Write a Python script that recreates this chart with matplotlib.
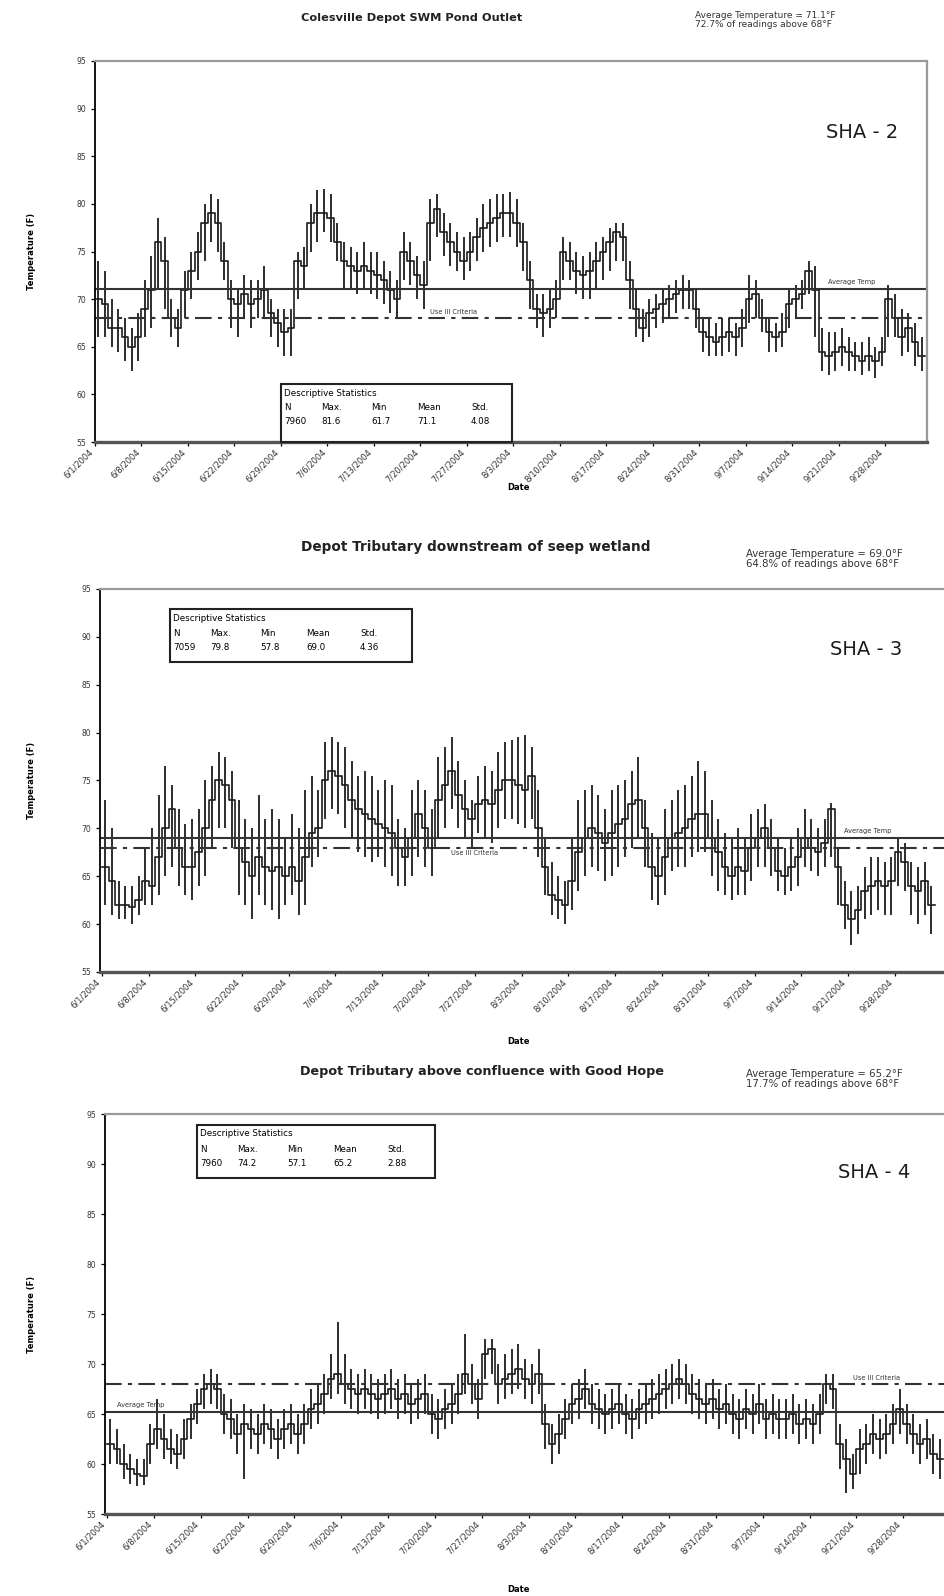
import matplotlib
matplotlib.use("Agg")
import matplotlib.pyplot as plt
from matplotlib.patches import Rectangle
import numpy as np

plt.rcParams['font.family'] = ['DejaVu Sans']

W, H = 944, 1596

tick_labels = ["6/1/2004", "6/8/2004", "6/15/2004", "6/22/2004", "6/29/2004",
               "7/6/2004", "7/13/2004", "7/20/2004", "7/27/2004", "8/3/2004",
               "8/10/2004", "8/17/2004", "8/24/2004", "8/31/2004", "9/7/2004",
               "9/14/2004", "9/21/2004", "9/28/2004"]
tick_days = [0, 7, 14, 21, 28, 35, 42, 49, 56, 63, 70, 77, 84, 91, 98, 105, 112, 119]

# SHA-2 daily mean / min / max (deg F), from 6/1/2004
sha2_mean = [70, 69.5, 67, 67, 66, 65, 66, 69, 71, 76, 74, 68, 67, 71, 73, 75, 78, 79, 78, 74,
             70, 69.5, 70.5, 69.5, 70, 71, 68.5, 67.5, 66.5, 67, 74, 73.5, 78, 79, 79, 78.5, 76, 74, 73.5, 73,
             73.5, 73, 72.5, 72, 71, 70, 75, 74, 72.5, 71.5, 78, 79.5, 77, 76, 75, 74, 75, 76.5, 77.5, 78,
             78.5, 79, 79, 78, 76, 72, 69, 68.5, 69, 70, 75, 74, 73, 72.5, 73, 74, 75, 76, 77, 76.5,
             72, 69, 67, 68.5, 69, 69.5, 70, 70.5, 71, 71, 69, 66.5, 66, 65.5, 66, 66.5, 66, 67, 70, 70.5,
             68, 66.5, 66, 66.5, 69.5, 70, 70.5, 73, 71, 64.5, 64, 64.5, 65, 64.5, 64, 63.5, 64, 63.5, 64.5, 70,
             68, 66, 67, 65.5, 64]
sha2_lo = [66, 66, 65, 64.5, 63.5, 62.5, 63.5, 66, 67, 71, 69, 66, 65, 68, 70, 72, 74, 76, 75, 72,
           67, 66, 68, 67, 68, 68, 66, 65, 64, 64, 70, 71, 75, 76, 77, 76, 74, 71, 71, 70.5,
           71, 70.5, 70, 69.5, 68.5, 68, 72, 71.5, 70, 69, 74, 76.5, 74.5, 73.5, 73, 72, 73, 74, 75, 75.5,
           76, 76.5, 76.5, 75.5, 73, 69, 67, 66, 67, 68, 72, 72, 70.5, 70, 70, 71, 72, 73, 74, 74,
           69, 66, 65.5, 66, 67, 67.5, 68, 68.5, 69, 69, 67, 64.5, 64, 64, 64, 64.5, 64, 65, 67.5, 68,
           66.5, 64.5, 64.5, 65, 67, 68, 69, 70.5, 66, 62.5, 62, 62.5, 63, 62.5, 62.5, 62, 62.5, 61.7, 63, 66,
           66, 64, 64.5, 63, 62.5]
sha2_hi = [74, 73, 70, 69, 68, 67, 68.5, 72, 74.5, 78.5, 76.5, 70, 69, 73, 75, 77, 80, 81, 80.5, 76,
           72, 71, 72.5, 72, 72, 73.5, 70, 69, 69, 69, 75, 75.5, 80, 81.5, 81.6, 81, 78, 76, 75.5, 75,
           76, 75, 75, 74, 73, 72, 77, 76, 74.5, 74, 80.5, 81, 79, 78, 77, 76.5, 77, 78.5, 80, 80.5,
           81, 81, 81.2, 80.5, 78, 74, 70.5, 70.5, 71, 72, 76.5, 76, 75, 74.5, 75, 76, 76.5, 77.5, 78, 78,
           74, 71, 69, 70, 70.5, 71, 71.5, 72, 72.5, 72, 71, 68, 68, 67.5, 68, 68, 67.5, 69, 72.5, 72,
           70, 68, 67.5, 68.5, 71, 71.5, 72, 74, 73.5, 67, 66.5, 66.5, 67, 66, 65.5, 65.5, 66, 65, 66, 71.5,
           70.5, 69, 68.5, 67.5, 66]

# SHA-3 daily mean / min / max
sha3_mean = [66, 64.5, 62, 62, 61.8, 62.5, 64.5, 64, 67, 70, 72, 68, 66, 66, 67.5, 70, 73, 75, 74.5, 73,
             68, 66.5, 65, 67, 66, 65.5, 66, 65, 66, 64.5, 67, 69.5, 70, 75, 76, 75.5, 74.5, 73, 72, 71.5,
             71, 70.5, 70, 69.5, 68, 67, 69, 71.5, 70, 68, 73, 74.5, 76, 73.5, 72, 71, 72.5, 73, 72.5, 74,
             75, 75, 74.5, 74, 75.5, 70, 66, 63, 62.5, 62, 64.5, 67.5, 69, 70, 69.5, 68.5, 69.5, 70.5, 71, 72.5,
             73, 70, 66, 65, 67, 69, 69.5, 70, 71, 71.5, 71.5, 69, 67.5, 66, 65, 66, 65.5, 68, 69, 70,
             68, 65.5, 65, 66, 67, 69, 68, 67.5, 68.5, 72, 66, 62, 60.5, 61.5, 63.5, 64, 64.5, 64, 64.5, 67.5,
             66.5, 64, 63.5, 64.5, 62]
sha3_lo = [62, 61, 60.5, 60.5, 60, 61, 62, 62, 63, 65, 66, 64, 63, 62.5, 64, 65, 68, 70, 70, 68,
           63, 62, 60.5, 63, 62, 61.5, 60.5, 62, 63, 61, 62, 66, 67, 71, 72, 71.5, 70, 69, 67.5, 67,
           66.5, 67, 66, 65, 64, 64, 65, 67, 66, 65, 69, 70, 72, 70, 69, 68, 69.5, 69, 68.5, 70,
           71, 71, 70.5, 70, 71, 67, 63, 61, 60.5, 60, 61.5, 63.5, 65, 66, 65.5, 64.5, 65, 66, 67, 68,
           69, 66, 62.5, 62, 63, 65.5, 66, 66, 67, 67.5, 67.5, 65, 63.5, 63, 62.5, 63, 63, 64.5, 66, 66,
           65, 63.5, 63, 63.5, 64, 66, 65.5, 65, 66, 67, 62, 59.5, 57.8, 59, 60.5, 61, 61.5, 61, 61, 64,
           63.5, 61, 60, 61, 59]
sha3_hi = [73, 70, 64.5, 64, 64, 65, 68, 70, 73.5, 76.5, 74.5, 72, 70.5, 71, 72, 75, 76.5, 78, 77.5, 76,
           73, 71, 70, 73.5, 71, 72, 71, 69, 71.5, 70, 74, 75.5, 74, 79, 79.5, 79, 78.5, 77, 75.5, 76,
           75.5, 74, 75, 74.5, 71, 70, 74, 75, 74, 72, 77.5, 78.5, 79.5, 77, 75, 73, 75.5, 76.5, 76, 78,
           79, 79.2, 79.5, 79.8, 78.5, 74, 69, 66.5, 65, 64.5, 69, 73, 74, 74.5, 73.5, 72, 74, 74.5, 75, 76,
           77.5, 73, 69.5, 69, 72, 73, 74, 74.5, 75.5, 77, 76, 73, 71, 69.5, 69, 70, 69, 71.5, 72, 72.5,
           71, 69, 68, 69, 70, 72, 71, 70, 71, 72.7, 68, 64.5, 63.5, 64, 66, 67, 67, 66.5, 67, 69,
           68.5, 66.5, 66, 66.5, 64]

# SHA-4 daily mean / min / max
sha4_mean = [62, 61.5, 60, 59.5, 59, 58.8, 62, 63.5, 62.5, 61.5, 61, 62.5, 64.5, 66, 67.5, 68, 67.5, 65, 64.5, 63,
             64, 63.5, 63, 64, 63.5, 62.5, 63.5, 64, 63, 64, 65.5, 66, 67, 68.5, 69, 68, 67.5, 67, 67.5, 67,
             66.5, 67, 67.5, 66.5, 67, 66, 66.5, 67, 65, 64.5, 65.5, 66, 67, 69, 68, 66.5, 71, 71.5, 68, 68.5,
             69, 69.5, 68.5, 68, 69, 64, 62, 63, 64.5, 66, 66.5, 67.5, 66, 65.5, 65, 65.5, 66, 65, 64.5, 65.5,
             66, 66.5, 67, 67.5, 68, 68.5, 68, 67, 66.5, 66, 66.5, 65.5, 66, 65, 64.5, 65.5, 65, 66, 64.5, 65,
             64.5, 64.5, 65, 64, 64.5, 64, 65, 68, 67.5, 62, 60.5, 59, 61.5, 62, 63, 62.5, 63, 64, 65.5, 64,
             63, 62, 62.5, 61, 60.5]
sha4_lo = [60, 60, 58.5, 58, 57.8, 57.9, 60, 61.5, 60.5, 60, 59.5, 60.5, 62.5, 64, 65.5, 66, 65.5, 63, 62.5, 61,
           58.5, 61.5, 61, 62, 61.5, 60.5, 61.5, 62, 61, 62, 63.5, 64, 65, 66.5, 67, 66, 65.5, 65, 65.5, 65,
           64.5, 65, 65.5, 64.5, 65, 64, 64.5, 65, 63, 62.5, 63.5, 64, 65, 67, 66, 64.5, 68.5, 69, 66, 66.5,
           67, 67.5, 66.5, 66, 67, 61.5, 60, 61, 62.5, 64, 64.5, 65.5, 64, 63.5, 63, 63.5, 64, 63, 62.5, 63.5,
           64, 64.5, 65, 65.5, 66, 66.5, 66, 65, 64.5, 64, 64.5, 63.5, 64, 63, 62.5, 63.5, 63, 64, 62.5, 63,
           62.5, 62.5, 63, 62, 62.5, 62, 63, 66, 65.5, 59.5, 57.1, 57.5, 59, 60, 61, 60.5, 61, 62, 63, 62,
           61, 60, 60.5, 59, 58.5]
sha4_hi = [64.5, 63.5, 62, 61, 60.5, 60.5, 64, 66.5, 65, 63.5, 63, 64.5, 66, 67.5, 69, 69.5, 69, 67, 66.5, 65,
           66, 65.5, 65, 66, 65.5, 64.5, 65.5, 66, 65, 66, 67.5, 68, 69, 71, 74.2, 71, 69.5, 69, 69.5, 69,
           68.5, 69, 69.5, 68.5, 69, 68, 68.5, 69, 67, 66.5, 67.5, 68, 69, 73, 70, 68.5, 72.5, 72.5, 70, 71,
           71.5, 72, 70.5, 70, 71.5, 66, 64, 65, 66.5, 68, 68.5, 69.5, 68, 67.5, 67, 67.5, 68, 67, 66.5, 67.5,
           68, 68.5, 69, 69.5, 70, 70.5, 70, 69, 68.5, 68, 68.5, 67.5, 68, 67, 66.5, 67.5, 67, 68, 66.5, 67,
           66.5, 66.5, 67, 66, 66.5, 66, 67, 69, 69, 64, 62.5, 61, 63.5, 64, 65, 64.5, 65, 66, 67.5, 66,
           65, 64, 64.5, 63, 62.5]

panels = [
    dict(name="SHA - 2", title="Colesville Depot SWM Pond Outlet", title_fs=8.2, title_x=412,
         note="Average Temperature = 71.1°F\n72.7% of readings above 68°F", note_fs=6.5,
         mean=sha2_mean, lo=sha2_lo, hi=sha2_hi, avg=71.1, crit=68,
         stats=["7960", "81.6", "61.7", "71.1", "4.08"],
         box=(95, 61, 927, 442), xlim=(0, 125.3), title_y=18, note_x=695, note_y=11,
         statbox=(281, 384, 512, 442), sha=(862, 132), date_y=487,
         avg_lbl=(114, "right"), crit_lbl=(54, "above")),
    dict(name="SHA - 3", title="Depot Tributary downstream of seep wetland", title_fs=9.8, title_x=476,
         note="Average Temperature = 69.0°F\n64.8% of readings above 68°F", note_fs=7.3,
         mean=sha3_mean, lo=sha3_lo, hi=sha3_hi, avg=69.0, crit=68,
         stats=["7059", "79.8", "57.8", "69.0", "4.36"],
         box=(100, 589, 944, 972), xlim=(-0.3, 126.4), title_y=547, note_x=746, note_y=549,
         statbox=(170, 609, 412, 662), sha=(866, 649), date_y=1041,
         avg_lbl=(115, "right"), crit_lbl=(56, "below")),
    dict(name="SHA - 4", title="Depot Tributary above confluence with Good Hope", title_fs=9.2, title_x=482,
         note="Average Temperature = 65.2°F\n17.7% of readings above 68°F", note_fs=7.3,
         mean=sha4_mean, lo=sha4_lo, hi=sha4_hi, avg=65.2, crit=68,
         stats=["7960", "74.2", "57.1", "65.2", "2.88"],
         box=(105, 1114, 944, 1514), xlim=(-0.3, 125.1), title_y=1071, note_x=746, note_y=1069,
         statbox=(197, 1125, 435, 1178), sha=(874, 1172), date_y=1590,
         avg_lbl=(5, "left"), crit_lbl=(115, "above")),
]

fig = plt.figure(figsize=(W / 100, H / 100), dpi=100)


def fx(x):
    return x / W


def fy(y):
    return 1 - y / H


ink = "#1c1c1c"

for p in panels:
    x0, y0, x1, y1 = p["box"]
    ax = fig.add_axes([fx(x0), fy(y1), fx(x1) - fx(x0), fy(y0) - fy(y1)])
    days = np.arange(len(p["mean"]))
    ax.vlines(days + 0.5, p["lo"], p["hi"], color=ink, lw=1.3)
    ax.step(np.append(days, len(days)), np.append(p["mean"], p["mean"][-1]),
            where="post", color=ink, lw=1.2)
    ax.axhline(p["avg"], color="#333333", lw=1.5)
    ax.axhline(p["crit"], color="#333333", lw=1.5, ls=(0, (8, 3, 2, 3)))

    ax.set_xlim(*p["xlim"])
    ax.set_ylim(55, 95)
    ax.set_yticks(range(55, 96, 5))
    ax.set_xticks(tick_days)
    ax.set_xticklabels(tick_labels, rotation=45, ha="right", fontsize=6, color="#333333")
    ax.tick_params(axis="y", labelsize=5.5, length=3, width=0.9, labelcolor="#333333")
    ax.tick_params(axis="x", length=3, width=0.9, pad=1)
    for s in ["top", "right"]:
        ax.spines[s].set_color("#9a9a9a")
        ax.spines[s].set_linewidth(1.6)
    if x1 >= W:
        ax.spines["right"].set_visible(False)
    ax.spines["bottom"].set_color("#555555")
    ax.spines["bottom"].set_linewidth(2.4)
    ax.spines["left"].set_linewidth(1.3)

    # reference line labels
    d, where = p["avg_lbl"]
    ax.text(d, p["avg"] + 0.4, "Average Temp", fontsize=4.8, ha="center", va="bottom", color="#333333")
    d, where = p["crit_lbl"]
    if where == "above":
        ax.text(d, p["crit"] + 0.3, "Use III Criteria", fontsize=4.8, ha="center", va="bottom", color="#333333")
    else:
        ax.text(d, p["crit"] - 0.3, "Use III Criteria", fontsize=4.8, ha="center", va="top", color="#333333")

    ax.set_ylabel("Temperature (F)", fontsize=6, fontweight="bold")
    ax.yaxis.set_label_coords((36 - x0) / (x1 - x0), 0.5)

    # titles and notes
    fig.text(fx(p["title_x"]), fy(p["title_y"]), p["title"], fontsize=p["title_fs"],
             fontweight="bold", ha="center", va="center", color="#222222")
    fig.text(fx(p["note_x"]), fy(p["note_y"]), p["note"], fontsize=p["note_fs"], ha="left", va="top",
             color="#333333", linespacing=1.0)
    fig.text(fx(p["sha"][0]), fy(p["sha"][1]), p["name"], fontsize=14, ha="center", va="center",
             color=ink)
    fig.text(fx(519), fy(p["date_y"]), "Date", fontsize=6, fontweight="bold", ha="center", va="center")

    # descriptive statistics box
    bx0, by0, bx1, by1 = p["statbox"]
    fig.add_artist(Rectangle((fx(bx0), fy(by1)), fx(bx1) - fx(bx0), fy(by0) - fy(by1),
                             transform=fig.transFigure, fc="white", ec="#222222", lw=1.5))
    fig.text(fx(bx0 + 3), fy(by0 + 9), "Descriptive Statistics", fontsize=6.3, va="center", ha="left")
    cols = [3, 40, 90, 136, 190]
    heads = ["N", "Max.", "Min", "Mean", "Std."]
    for c, h, v in zip(cols, heads, p["stats"]):
        fig.text(fx(bx0 + c), fy(by0 + 24), h, fontsize=6.3, va="center", ha="left")
        fig.text(fx(bx0 + c), fy(by0 + 38), v, fontsize=6.3, va="center", ha="left")

fig.savefig("out.png", dpi=100)
